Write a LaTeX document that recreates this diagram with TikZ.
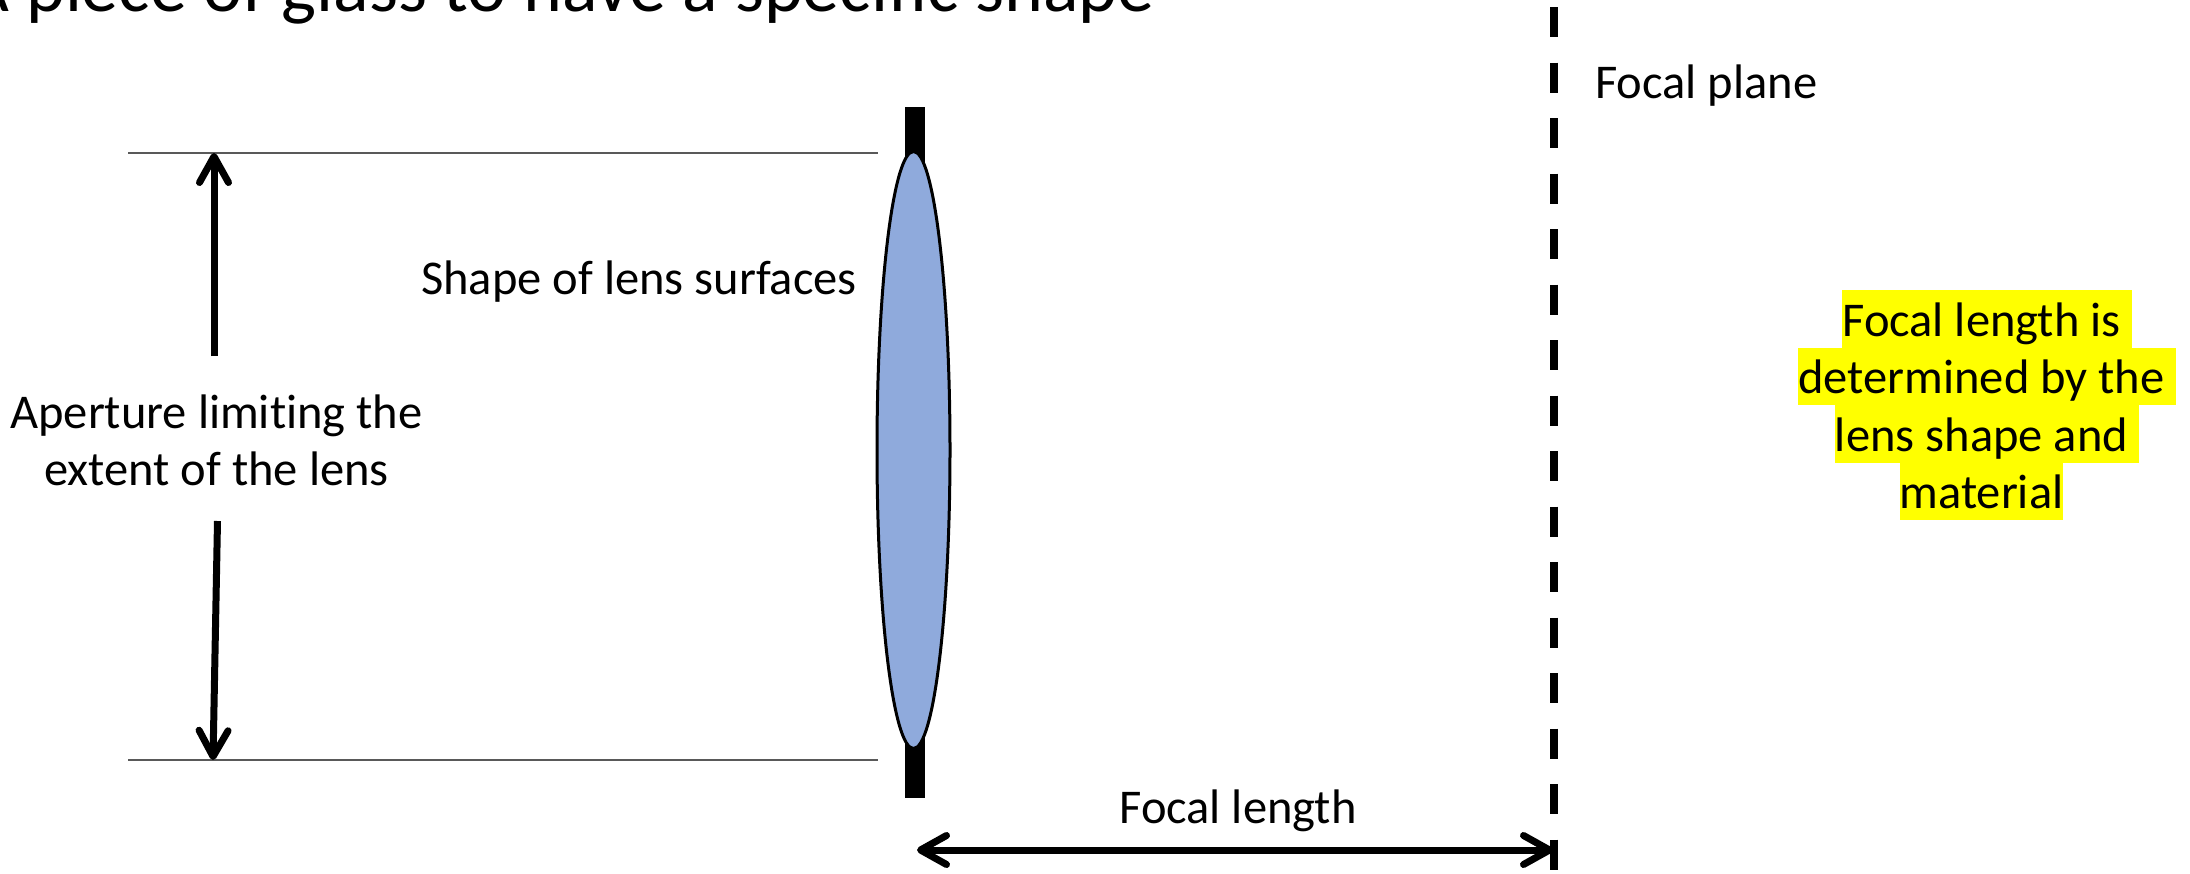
\documentclass[tikz,border=0pt]{standalone}
\usepackage{fontspec}
\setmainfont{Carlito}[Ligatures=NoCommon]
\usetikzlibrary{arrows.meta,shapes.geometric}
\definecolor{lensblue}{HTML}{8FAADC}
\definecolor{guidegray}{HTML}{595959}
\definecolor{hl}{HTML}{FFFF00}
\begin{document}
\begin{tikzpicture}[x=1pt,y=-1pt,
  lbl/.style={inner sep=0pt, font=\fontsize{48.5}{57.5}\selectfont},
  hlt/.style={lbl, fill=hl, text height=46pt, text depth=11.5pt, anchor=base},
  guide/.style={draw=guidegray, line width=2pt},
  arr/.style={line width=7pt, -{Straight Barb[length=26pt,width=29pt,round]}},
  dblarr/.style={line width=7pt, {Straight Barb[length=26pt,width=29pt,round]}-{Straight Barb[length=26pt,width=29pt,round]}},
  planeline/.style={line width=8pt, dash pattern=on 30pt off 25.5pt}
]
\useasboundingbox (0,0) rectangle (2190,873);
\clip (0,0) rectangle (2190,873);

% title (cut off at top)
\node[anchor=base west, inner sep=0pt, font=\fontsize{74}{90}\selectfont] (title) at (-33.6,11) {A piece of glass to have a specific shape};

% aperture guide lines
\coordinate (tl) at (128,153);
\coordinate (tr) at (878,153);
\coordinate (bl) at (128,760);
\coordinate (br) at (878,760);
\draw[guide] (tl) -- (tr);
\draw[guide] (bl) -- (br);

% lens holder bar and lens
\node[fill=black, inner sep=0pt, minimum width=20pt, minimum height=691pt] (bar) at (915,452.5) {};
\node[draw=black, ellipse, fill=lensblue, line width=3pt, inner sep=0pt, minimum width=73pt, minimum height=597pt] (lens) at (913.5,450) {};

% focal plane
\coordinate (fpTop) at (1554,7);
\coordinate (fpBot) at (1554,900);
\draw[planeline] (fpTop) -- (fpBot);

% aperture text and arrows
\node[lbl, anchor=base] (aper1) at (216.5,428) {Aperture limiting the};
\node[lbl, anchor=base] (aper2) at (216.5,485) {extent of the lens};
\coordinate (upS) at (214,356);
\coordinate (upE) at (214,153);
\coordinate (dnS) at (217.5,521);
\coordinate (dnE) at (213,760);
\draw[arr] (upS) -- (upE);
\draw[arr] (dnS) -- (dnE);

% labels
\node[lbl, anchor=base east] (shape) at (857,294) {Shape of lens surfaces};
\node[lbl, anchor=base west] (fplabel) at (1595,98) {Focal plane};
\node[lbl, anchor=base] (fllabel) at (1238,823) {Focal length};

% focal length arrow
\coordinate (flL) at (917,850);
\coordinate (flR) at (1553,850);
\draw[dblarr] (flL) -- (flR);

% highlighted note
\node[hlt] (note1) at (1987,336) {Focal length is\kern11pt};
\node[hlt] (note2) at (1987,393.5) {determined by the\kern11pt};
\node[hlt] (note3) at (1987,451) {lens shape and\kern11pt};
\node[hlt] (note4) at (1981.5,508.5) {material};
\end{tikzpicture}
\end{document}
